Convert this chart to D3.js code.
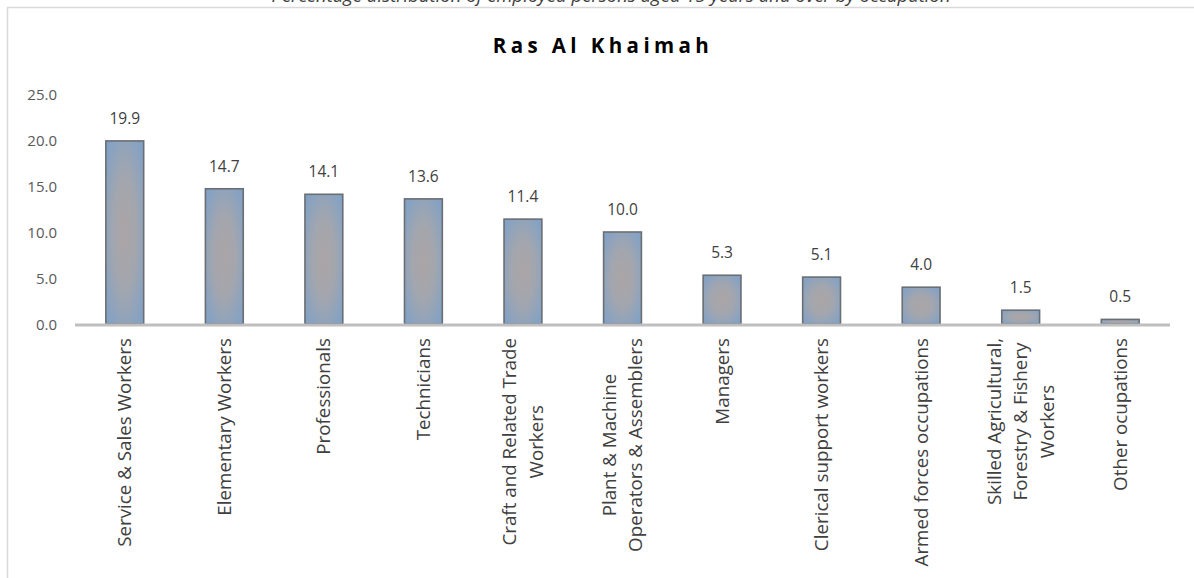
<!DOCTYPE html>
<html>
<head>
<meta charset="utf-8">
<script src="https://cdn.jsdelivr.net/npm/d3@7"></script>
<style>
  html, body { margin: 0; padding: 0; background: #fff; }
  svg { display: block; font-family: "Open Sans", "Noto Sans", sans-serif; }
</style>
</head>
<body>
<svg id="chart" width="1194" height="578"></svg>
<script>
const categories = [
  ["Service & Sales Workers"],
  ["Elementary Workers"],
  ["Professionals"],
  ["Technicians"],
  ["Craft and Related Trade", "Workers"],
  ["Plant & Machine", "Operators & Assemblers"],
  ["Managers"],
  ["Clerical support workers"],
  ["Armed forces occupations"],
  ["Skilled Agricultural,", "Forestry & Fishery", "Workers"],
  ["Other ocupations"]
];
const values = [19.9, 14.7, 14.1, 13.6, 11.4, 10.0, 5.3, 5.1, 4.0, 1.5, 0.5];
const yTicks = [0, 5, 10, 15, 20, 25];
const chartTitle = "Ras Al Khaimah";
const topCaption = "Percentage distribution of employed persons aged 15 years and over by occupation";

const svg = d3.select("#chart");
const W = 1194, H = 578;
const plot = { left: 75, right: 1170, top: 94, bottom: 324 };

// gradient
const defs = svg.append("defs");
const grad = defs.append("radialGradient").attr("id", "barGrad")
  .attr("cx", "50%").attr("cy", "50%").attr("r", "75%");
grad.append("stop").attr("offset", "0%").attr("stop-color", "#aba5a6");
grad.append("stop").attr("offset", "40%").attr("stop-color", "#a3a6ae");
grad.append("stop").attr("offset", "100%").attr("stop-color", "#78a0cc");

// top caption (cut off at the top edge, as in the source)
svg.append("text")
  .attr("x", 611).attr("y", 2)
  .attr("text-anchor", "middle")
  .attr("font-style", "italic")
  .attr("font-size", 18.5)
  .attr("fill", "#404040")
  .text(topCaption);

// frame
svg.append("rect")
  .attr("x", 7.5).attr("y", 7.5).attr("width", W).attr("height", H)
  .attr("fill", "none").attr("stroke", "#d9d9d9").attr("stroke-width", 1.5);

// title
svg.append("text")
  .attr("x", 603).attr("y", 53)
  .attr("text-anchor", "middle")
  .attr("font-weight", "bold")
  .attr("font-size", 20.5)
  .attr("letter-spacing", "4.4px")
  .attr("fill", "#000")
  .text(chartTitle);

const x = d3.scaleBand()
  .domain(d3.range(categories.length))
  .range([plot.left, plot.right])
  .paddingInner(0.62).paddingOuter(0.31);

const y = d3.scaleLinear().domain([0, 25]).range([plot.bottom, plot.top]);

// y axis labels
const yAxis = d3.axisLeft(y).tickValues(yTicks).tickFormat(d3.format(".1f")).tickSize(0).tickPadding(0);
const yg = svg.append("g").attr("transform", "translate(57,0)").call(yAxis);
yg.select(".domain").remove();
yg.selectAll("text").attr("font-size", 15).attr("fill", "#595959")
  .attr("font-family", "'Open Sans', sans-serif").attr("dy", "0.35em");

// bars
svg.append("g").selectAll("rect").data(values).join("rect")
  .attr("x", (d, i) => x(i))
  .attr("y", d => y(d))
  .attr("width", x.bandwidth())
  .attr("height", d => y(0) - y(d))
  .attr("fill", "url(#barGrad)")
  .attr("stroke", "#6b6e72")
  .attr("stroke-width", 1.6);

// baseline
svg.append("line")
  .attr("x1", plot.left).attr("x2", plot.right)
  .attr("y1", y(0) + 1).attr("y2", y(0) + 1)
  .attr("stroke", "#bfbfbf").attr("stroke-width", 3);

// data labels
svg.append("g").selectAll("text").data(values).join("text")
  .attr("x", (d, i) => x(i) + x.bandwidth() / 2)
  .attr("y", d => y(d) - 17)
  .attr("text-anchor", "middle")
  .attr("font-size", 15.5)
  .attr("fill", "#404040")
  .text(d => d3.format(".1f")(d));

// category labels (rotated)
const lineH = 26.5;
const catG = svg.append("g");
categories.forEach((lines, i) => {
  const cx = x(i) + x.bandwidth() / 2;
  const g = catG.append("g");
  const texts = lines.map((ln, j) => g.append("text")
    .attr("font-size", 18.8)
    .attr("fill", "#404040")
    .attr("text-anchor", "middle")
    .text(ln));
  const maxW = d3.max(texts, t => t.node().getComputedTextLength());
  const cy = 338 + maxW / 2;
  texts.forEach((t, j) => {
    const off = (j - (lines.length - 1) / 2) * lineH;
    const lx = cx + off;
    t.attr("transform", `translate(${lx},${cy}) rotate(-90)`)
     .attr("dy", "0.35em");
  });
});
</script>
</body>
</html>
